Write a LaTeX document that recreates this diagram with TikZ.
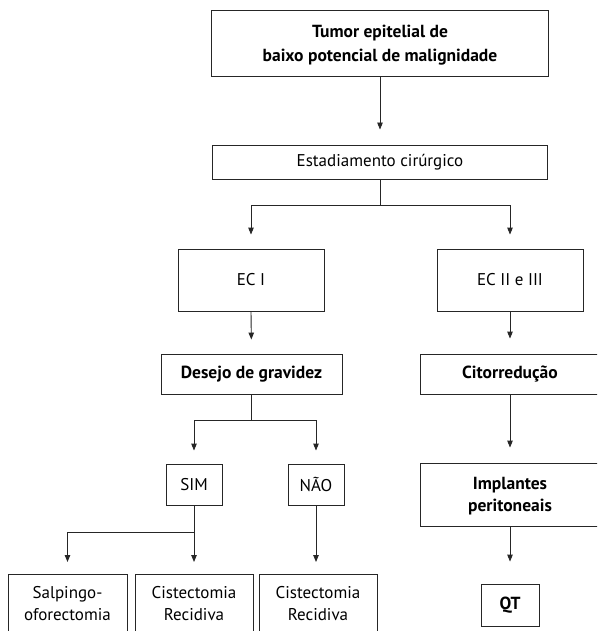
\documentclass[tikz,border=0pt]{standalone}
\usepackage{fontspec}
\setmainfont{PT Sans}
\usetikzlibrary{arrows.meta}
\tikzset{
  box/.style={draw=black!85, line width=0.9pt, align=center, inner sep=0pt, font=\fontsize{17}{22}\selectfont},
  bbold/.style={box, font=\fontsize{17.5}{23}\selectfont\bfseries},
  arr/.style={draw=black!85, line width=0.9pt, -{Triangle[length=7pt,width=5.5pt]}},
  ln/.style={draw=black!85, line width=0.9pt},
  toplabel/.style={anchor=north, yshift=-10pt, inner sep=2pt, align=center, font=\fontsize{17}{22}\selectfont}
}
\begin{document}
\begin{tikzpicture}[x=1pt,y=-1pt]
\clip (0,0) rectangle (597,631);
\fill[white] (0,0) rectangle (597,631);
% nodes
\node[bbold, minimum width=337, minimum height=66, text depth=-4pt, font=\fontsize{17.5}{24}\selectfont\bfseries] (top) at (380,43) {Tumor epitelial de\\baixo potencial de malignidade};
\node[box, minimum width=335, minimum height=34] (est) at (380,162) {Estadiamento cirúrgico};
\node[box, minimum width=146, minimum height=62] (ec1) at (251,280) {EC I};
\node[box, minimum width=146, minimum height=62] (ec2) at (510,280) {EC II e III};
\node[bbold, minimum width=181, minimum height=40] (des) at (251.5,374) {Desejo de gravidez};
\node[bbold, minimum width=180, minimum height=40] (cit) at (510,374) {Citorredução};
\node[box, minimum width=56, minimum height=41] (sim) at (194,484.5) {SIM};
\node[box, minimum width=56, minimum height=41] (nao) at (316,484.5) {NÃO};
\node[bbold, minimum width=180, minimum height=63, text depth=-4pt, font=\fontsize{17.5}{21.5}\selectfont\bfseries] (imp) at (510,494.5) {Implantes\\peritoneais};
\node[box, anchor=north, minimum width=119, minimum height=100,
  label={[toplabel]north:Salpingo-\\oforectomia}] (salp) at (67.5,574) {};
\node[box, anchor=north, minimum width=118, minimum height=100,
  label={[toplabel]north:Cistectomia\\Recidiva}] (cis1) at (194,574) {};
\node[box, anchor=north, minimum width=118, minimum height=100,
  label={[toplabel]north:Cistectomia\\Recidiva}] (cis2) at (318,574) {};
\node[bbold, minimum width=58, minimum height=42] (qt) at (510,605) {QT};
% connectors
\draw[arr, shorten >=15pt] (top.south) -- (est.north);
\draw[ln] (est.south) -- ++(0,26) coordinate (split1);
\draw[arr, shorten >=14pt] (split1) -| (ec1.north);
\draw[arr, shorten >=14pt] (split1) -| (ec2.north);
\draw[arr, shorten >=14pt] (ec1.south) -- (des.north);
\draw[arr, shorten >=15pt] (ec2.south) -- (cit.north);
\draw[ln] (des.south) -- ++(0,26) coordinate (split2);
\draw[arr, shorten >=13pt] (split2) -| (sim.north);
\draw[arr, shorten >=13pt] (split2) -| (nao.north);
\draw[arr, shorten >=15pt] (cit.south) -- (imp.north);
\draw[ln] (sim.south) -- ++(0,27) coordinate (split3);
\draw[arr, shorten >=12pt] (split3) -| (salp.north);
\draw[arr, shorten >=12pt] (sim.south) -- (cis1.north);
\draw[arr, shorten >=12pt] (nao.south) -- (nao.south |- cis2.north);
\draw[arr, shorten >=22pt] (imp.south) -- (qt.north);
\end{tikzpicture}
\end{document}
